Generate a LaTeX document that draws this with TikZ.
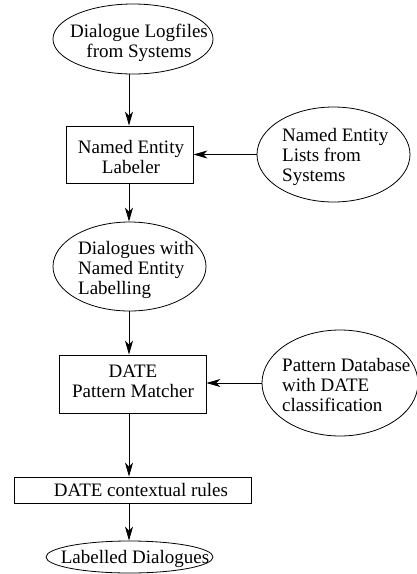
\documentclass[tikz,border=0pt]{standalone}
\usepackage{fontspec}
\setmainfont{Liberation Serif}
\usetikzlibrary{shapes.geometric,arrows.meta}
\begin{document}
\begin{tikzpicture}[x=1pt,y=-1pt,
  every node/.style={font=\fontsize{19}{20.3}\selectfont, inner sep=0pt},
  ell/.style={draw, ellipse, line width=0.8pt},
  boxn/.style={draw, rectangle, line width=0.8pt},
  txt/.style={align=center},
  txl/.style={align=left, anchor=west},
  arr/.style={line width=0.8pt, -{Stealth[length=14pt,width=8pt,inset=4pt]}}]
\useasboundingbox (0,0) rectangle (417,574);
% shapes
\node[ell, minimum width=160, minimum height=70] (e1) at (133,39) {};
\node[boxn, minimum width=127, minimum height=57] (b1) at (129.5,154.5) {};
\node[ell, minimum width=153, minimum height=95] (e2) at (333.5,154.5) {};
\node[ell, minimum width=153, minimum height=89] (e3) at (129.5,266.5) {};
\node[boxn, minimum width=147, minimum height=58] (b2) at (132.5,384) {};
\node[ell, minimum width=156, minimum height=106] (e4) at (340,383) {};
\node[boxn, minimum width=237, minimum height=26] (b3) at (132.5,490) {};
\node[ell, minimum width=167, minimum height=32] (e5) at (129.5,557) {};
% texts
\node[txt] (t1) at (139,43) {Dialogue Logfiles\\from Systems};
\node[txt] (t2) at (131,157) {Named Entity\\Labeler};
\node[txl] (t3) at (282,157) {Named Entity\\Lists from\\Systems};
\node[txl] (t4) at (78,270) {Dialogues with\\Named Entity\\Labelling};
\node[txt] (t5) at (133,381) {DATE\\Pattern Matcher};
\node[txl] (t6) at (282,385) {Pattern Database\\with DATE\\classification};
\node[txt] (t7) at (141,490) {DATE contextual rules};
\node[txt] (t8) at (135,559) {Labelled Dialogues};
% connectors
\coordinate (c1) at (129,0);
\draw[arr] (c1 |- e1.south) -- (c1 |- b1.north);
\draw[arr] (e2.west) -- (e2.west -| b1.east);
\draw[arr] (c1 |- b1.south) -- (c1 |- e3.north);
\draw[arr] (c1 |- e3.south) -- (c1 |- b2.north);
\draw[arr] (e4.west) -- (e4.west -| b2.east);
\draw[arr] (c1 |- b2.south) -- (c1 |- b3.north);
\draw[arr] (c1 |- b3.south) -- (c1 |- e5.north);
\end{tikzpicture}
\end{document}
